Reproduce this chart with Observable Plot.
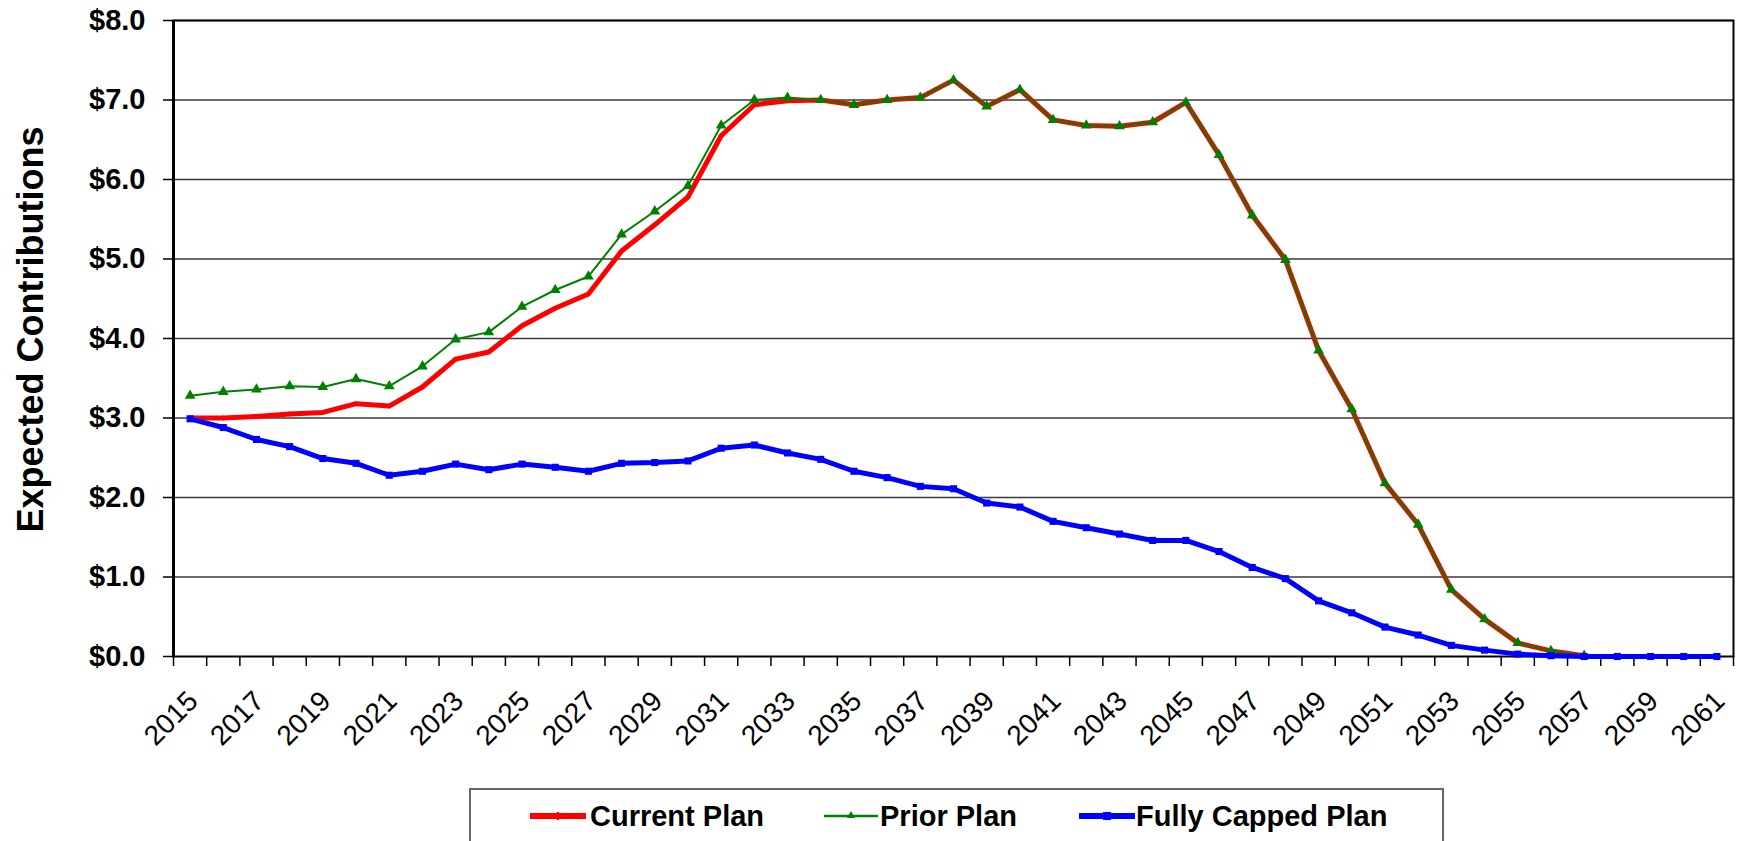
<!DOCTYPE html>
<html><head><meta charset="utf-8">
<script src="https://cdn.jsdelivr.net/npm/d3@7"></script>
<script src="https://cdn.jsdelivr.net/npm/@observablehq/plot@0.6"></script>
<style>
body{margin:0;background:#fff;font-family:"Liberation Sans",Arial,sans-serif;}
#wrap{position:relative;width:1742px;height:841px;overflow:hidden;background:#fff;}
#legend{position:absolute;left:469px;top:788px;width:971px;height:80px;border:2px solid #666;box-sizing:content-box;background:#fff;}
.item{position:absolute;top:10px;height:32px;display:flex;align-items:center;font-weight:bold;font-size:29px;color:#000;white-space:nowrap;}
.item svg{display:block;}
</style></head><body>
<div id="wrap"><div id="chart"></div><div id="legend"></div></div>
<script>
const years = [2015,2016,2017,2018,2019,2020,2021,2022,2023,2024,2025,2026,2027,2028,2029,2030,2031,2032,2033,2034,2035,2036,2037,2038,2039,2040,2041,2042,2043,2044,2045,2046,2047,2048,2049,2050,2051,2052,2053,2054,2055,2056,2057,2058,2059,2060,2061];
const currentPlan = [3.00,3.00,3.02,3.05,3.07,3.18,3.15,3.39,3.74,3.83,4.16,4.38,4.56,5.10,5.43,5.78,6.55,6.94,6.99,7.00,6.94,7.00,7.03,7.25,6.92,7.13,6.75,6.68,6.67,6.72,6.97,6.31,5.55,4.99,3.85,3.11,2.18,1.66,0.84,0.47,0.17,0.07,0.01,null,null,null,null];
const priorPlan = [3.28,3.33,3.36,3.40,3.39,3.49,3.40,3.65,3.99,4.08,4.40,4.61,4.78,5.31,5.60,5.92,6.68,7.00,7.03,7.00,6.94,7.00,7.03,7.25,6.92,7.13,6.75,6.68,6.67,6.72,6.97,6.31,5.55,4.99,3.85,3.11,2.18,1.66,0.84,0.47,0.17,0.07,0.01,null,null,null,null];
const fullyCappedPlan = [2.99,2.88,2.73,2.64,2.49,2.43,2.28,2.33,2.42,2.35,2.42,2.38,2.33,2.43,2.44,2.46,2.62,2.66,2.56,2.48,2.33,2.25,2.14,2.11,1.93,1.88,1.70,1.62,1.54,1.46,1.46,1.32,1.12,0.98,0.70,0.55,0.37,0.27,0.14,0.08,0.03,0.01,0,0,0,0,0];
const seriesNames = ["Current Plan","Prior Plan","Fully Capped Plan"];
const seriesColors = ["#ff0000","#008000","#0000ff"];
const yTicks = [0,1,2,3,4,5,6,7,8];
const yTitle = "Expected Contributions";

const xLabelYears = years.filter((d,i)=>i%2===0);
const boundaries = years.map(y=>y-0.5).concat([years[years.length-1]+0.5]);
const toRows = arr => years.map((year,i)=>({year, value: arr[i]})).filter(d=>d.value!=null);
const cur = toRows(currentPlan), pri = toRows(priorPlan), cap = toRows(fullyCappedPlan);

const chart = Plot.plot({
  width:1742, height:788, marginLeft:173, marginRight:9, marginTop:20, marginBottom:132,
  style:{fontFamily:"'Liberation Sans', Arial, sans-serif", background:"white", overflow:"visible", color:"#000"},
  x:{domain:[boundaries[0], boundaries[boundaries.length-1]]},
  y:{domain:[yTicks[0], yTicks[yTicks.length-1]]},
  marks:[
    Plot.ruleY(yTicks.slice(1), {stroke:"#3a3a3a", strokeWidth:1.5}),
    Plot.axisY({ticks:yTicks, tickSize:10, tickPadding:18, tickFormat:d=>"$"+d.toFixed(1), fontSize:29, fontWeight:"bold", label:null, strokeWidth:1.5}),
    Plot.axisX({ticks:boundaries, tickSize:10, tickFormat:()=>"", label:null, strokeWidth:1.5}),
    Plot.text(xLabelYears, {x:d=>d, text:d=>String(d), frameAnchor:"bottom", rotate:-45, textAnchor:"end", lineAnchor:"middle", dx:3, dy:40, fontSize:28}),
    Plot.text([yTitle], {text:d=>d, frameAnchor:"left", textAnchor:"middle", lineAnchor:"middle", rotate:-90, dx:-142, dy:-9, fontSize:36, fontWeight:"bold"}),
    Plot.frame({stroke:"#000", strokeWidth:2}),
    Plot.ruleX([boundaries[0]], {stroke:"#000", strokeWidth:3}),
    Plot.line(cur, {x:"year", y:"value", stroke:seriesColors[0], strokeWidth:5}),
    Plot.dot(cur, {x:"year", y:"value", symbol:"diamond2", r:2.5, fill:seriesColors[0]}),
    Plot.line(pri, {x:"year", y:"value", stroke:seriesColors[1], strokeWidth:2}),
    Plot.dot(pri, {x:"year", y:"value", symbol:"triangle", r:4, fill:seriesColors[1]}),
    Plot.line(cap, {x:"year", y:"value", stroke:seriesColors[2], strokeWidth:5}),
    Plot.dot(cap, {x:"year", y:"value", symbol:"square", r:4, fill:seriesColors[2]})
  ]
});
document.getElementById("chart").appendChild(chart);

// legend
const legend = document.getElementById("legend");
const legendPos = [[59,119],[353,409],[608,665]];
const swatch = (i) => {
  const c = seriesColors[i];
  let line, marker;
  if (i===0){ line=`<line x1="1" x2="55" y1="10" y2="10" stroke="${c}" stroke-width="6" stroke-linecap="round"/>`; marker=`<rect x="27" y="6" width="2" height="8" fill="${c}"/>`; }
  else if (i===1){ line=`<line x1="0" x2="54" y1="10" y2="10" stroke="${c}" stroke-width="2.5"/>`; marker=`<path d="M27,5 L31,12 L23,12 Z" fill="${c}"/>`; }
  else { line=`<line x1="1" x2="55" y1="10" y2="10" stroke="${c}" stroke-width="6" stroke-linecap="round"/>`; marker=`<rect x="24" y="6" width="8" height="8" fill="${c}"/>`; }
  return `<svg width="56" height="20">${line}${marker}</svg>`;
};
seriesNames.forEach((name,i)=>{
  const sw = document.createElement("div");
  sw.className="item"; sw.style.left=legendPos[i][0]+"px";
  sw.innerHTML = swatch(i);
  legend.appendChild(sw);
  const t = document.createElement("div");
  t.className="item"; t.style.left=legendPos[i][1]+"px";
  t.textContent = name;
  legend.appendChild(t);
});
</script>
</body></html>
